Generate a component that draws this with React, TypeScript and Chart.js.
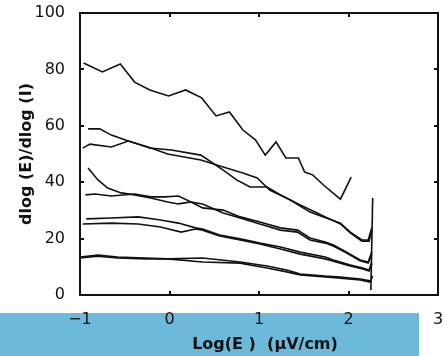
import React, { useEffect, useRef } from 'react';
import { Chart, registerables } from 'chart.js';

Chart.register(...registerables);

// ---- data ----
const xTickValues = [-1, 0, 1, 2, 3];
const yTickValues = [0, 20, 40, 60, 80, 100];
const xInnerTicks = [0, 1, 2];
const yInnerTicks = [20, 40, 60, 80];

const jagX = [-0.96, -0.75, -0.55, -0.39, -0.22, -0.01, 0.18, 0.36, 0.52, 0.67, 0.82, 0.96, 1.07, 1.19, 1.3, 1.44, 1.51, 1.6, 1.72, 1.91, 2.03];
const jagY = [82.3, 79.1, 81.9, 75.5, 72.7, 70.6, 72.7, 69.9, 63.5, 64.9, 58.5, 55.0, 49.6, 54.3, 48.6, 48.6, 43.6, 42.6, 39.0, 34.0, 41.8];

const aX = [-0.91, -0.78, -0.65, -0.46, -0.24, -0.02, 0.35, 0.6, 0.82, 0.98, 1.12, 1.35, 1.57, 1.72, 1.91, 2.02, 2.15, 2.22, 2.26];
const aY = [58.9, 58.9, 56.7, 54.6, 52.5, 50.0, 47.9, 45.4, 43.3, 41.5, 37.2, 33.7, 29.4, 27.7, 25.5, 22.3, 19.5, 19.5, 23.8];

const bX = [-0.97, -0.89, -0.65, -0.46, -0.22, 0.02, 0.35, 0.6, 0.75, 0.9, 1.09, 1.24, 1.46, 1.65, 1.74, 1.91, 2.02, 2.15, 2.23, 2.26];
const bY = [52.1, 53.5, 52.5, 54.6, 52.1, 51.4, 49.6, 44.3, 40.8, 38.3, 38.3, 35.5, 31.9, 29.1, 27.7, 25.2, 22.0, 19.1, 19.1, 23.0];

const cX = [-0.91, -0.8, -0.69, -0.54, -0.39, -0.21, -0.02, 0.1, 0.24, 0.37, 0.6, 0.79, 1.01, 1.24, 1.43, 1.57, 1.74, 1.83, 1.98, 2.13, 2.22, 2.26];
const cY = [45.0, 40.8, 37.9, 36.2, 35.5, 34.4, 33.0, 32.3, 33.0, 30.9, 30.1, 27.7, 25.9, 23.8, 23.0, 20.2, 18.8, 17.7, 15.2, 12.4, 11.7, 15.2];

const dX = [-0.94, -0.83, -0.65, -0.39, -0.21, -0.05, 0.1, 0.24, 0.37, 0.6, 0.79, 1.01, 1.24, 1.43, 1.57, 1.74, 1.83, 1.98, 2.13, 2.22, 2.26];
const dY = [35.5, 35.8, 35.1, 35.8, 34.8, 34.8, 35.1, 33.0, 32.3, 29.1, 27.3, 25.2, 23.0, 22.3, 19.5, 18.4, 17.4, 14.9, 12.1, 11.3, 14.5];

const eX = [-0.93, -0.65, -0.35, -0.1, 0.1, 0.29, 0.37, 0.56, 0.79, 1.01, 1.24, 1.46, 1.74, 1.83, 2.02, 2.16, 2.23, 2.26];
const eY = [27.0, 27.3, 27.7, 26.6, 25.5, 23.8, 23.4, 21.3, 19.9, 18.4, 17.0, 15.2, 13.5, 12.4, 10.6, 9.6, 8.9, 11.7];

const fX = [-0.97, -0.65, -0.35, -0.1, 0.13, 0.29, 0.37, 0.56, 0.79, 1.01, 1.24, 1.46, 1.74, 2.02, 2.16, 2.23, 2.26];
const fY = [25.2, 25.5, 25.2, 24.1, 22.3, 23.4, 23.0, 20.9, 19.5, 18.1, 16.3, 14.5, 12.8, 10.3, 9.2, 8.5, 11.0];

const gX = [-1.0, -0.8, -0.58, -0.27, -0.02, 0.37, 0.79, 1.09, 1.31, 1.46, 1.74, 1.91, 2.13, 2.24, 2.27];
const gY = [13.5, 14.2, 13.5, 13.1, 12.8, 11.7, 11.3, 9.6, 8.2, 7.1, 6.4, 6.0, 5.3, 4.6, 6.7];

const hX = [-1.0, -0.8, -0.58, -0.27, -0.02, 0.37, 0.79, 1.09, 1.31, 1.46, 1.74, 1.91, 2.13, 2.24];
const hY = [13.1, 13.8, 13.1, 12.8, 12.8, 13.1, 11.7, 10.3, 8.9, 7.4, 6.7, 6.4, 5.7, 5.0];

const spikeX = [2.25, 2.27];
const spikeY = [1.8, 34.4];

const xTitle = 'Log(E )  (μV/cm)';
const yTitle = 'dlog (E)/dlog (I)';

const allSeries: [number[], number[]][] = [
  [jagX, jagY], [aX, aY], [bX, bY], [cX, cY], [dX, dY],
  [eX, eY], [fX, fY], [gX, gY], [hX, hY], [spikeX, spikeY],
];

const INK = '#111111';

const decorPlugin = {
  id: 'decor',
  beforeDraw(chart: any) {
    const ctx = chart.ctx;
    ctx.save();
    ctx.fillStyle = '#6db9d9';
    ctx.fillRect(0, 313, 419, chart.height - 313);
    ctx.restore();
  },
  afterDatasetsDraw(chart: any) {
    const ctx = chart.ctx;
    const a = chart.chartArea;
    const xs = chart.scales.x;
    const ys = chart.scales.y;
    const left = Math.round(a.left);
    const right = Math.round(a.right);
    const top = Math.round(a.top);
    const bottom = Math.round(a.bottom);
    const w = 2;
    const L = 4;
    ctx.save();
    ctx.fillStyle = INK;
    ctx.fillRect(left - 1, top - 1, right - left + w, w);
    ctx.fillRect(left - 1, bottom - 1, right - left + w, w);
    ctx.fillRect(left - 1, top - 1, w, bottom - top + w);
    ctx.fillRect(right - 1, top - 1, w, bottom - top + w);
    xInnerTicks.forEach((v) => {
      const px = Math.round(xs.getPixelForValue(v));
      ctx.fillRect(px - 1, bottom - L, w, L);
      ctx.fillRect(px - 1, top, w, L);
    });
    yInnerTicks.forEach((v) => {
      const py = Math.round(ys.getPixelForValue(v));
      ctx.fillRect(left, py - 1, L, w);
      ctx.fillRect(right - L, py - 1, L, w);
    });
    ctx.restore();
  },
  afterDraw(chart: any) {
    const ctx = chart.ctx;
    const a = chart.chartArea;
    ctx.save();
    ctx.fillStyle = INK;
    ctx.font = 'bold 16px "DejaVu Sans"';
    ctx.textAlign = 'center';
    ctx.textBaseline = 'alphabetic';
    ctx.fillText(xTitle, 265, 349);
    ctx.translate(27, (a.top + a.bottom) / 2);
    ctx.rotate(-Math.PI / 2);
    ctx.textBaseline = 'middle';
    ctx.fillText(yTitle, 0, 0);
    ctx.restore();
  },
};

export default function App() {
  const ref = useRef<HTMLCanvasElement | null>(null);

  useEffect(() => {
    if (!ref.current) return;
    const datasets = allSeries.map(([xs, ys]) => ({
      data: xs.map((x, i) => ({ x, y: ys[i] })),
      borderColor: INK,
      borderWidth: 1.6,
      pointRadius: 0,
      tension: 0,
      fill: false,
    }));
    const tickFont = { family: '"DejaVu Sans"', size: 16 };
    const frameBorder = { display: true, color: INK, width: 2 };
    const chart = new Chart(ref.current, {
      type: 'line',
      data: { datasets },
      options: {
        animation: false,
        responsive: true,
        maintainAspectRatio: false,
        devicePixelRatio: 1,
        layout: { padding: { left: 0, right: 6, top: 13, bottom: 0 } },
        plugins: { legend: { display: false }, tooltip: { enabled: false } },
        scales: {
          x: {
            type: 'linear',
            min: -1,
            max: 3,
            afterBuildTicks: (s: any) => { s.ticks = xTickValues.map((v) => ({ value: v })); },
            afterFit: (s: any) => { s.height = 61; s.paddingLeft = 0; s.paddingRight = 0; },
            grid: { display: false, drawTicks: false },
            border: frameBorder,
            ticks: {
              font: tickFont,
              color: INK,
              padding: 15,
              maxRotation: 0,
              callback: (v: any) => String(v).replace('-', '−'),
            },
          },
          y: {
            type: 'linear',
            min: 0,
            max: 100,
            afterBuildTicks: (s: any) => { s.ticks = yTickValues.map((v) => ({ value: v })); },
            afterFit: (s: any) => { s.width = 80; s.paddingTop = 0; s.paddingBottom = 0; },
            grid: { display: false, drawTicks: false },
            border: frameBorder,
            ticks: { font: tickFont, color: INK, padding: 15 },
          },
        },
      },
      plugins: [decorPlugin],
    });
    return () => chart.destroy();
  }, []);

  return (
    <div style={{ position: 'fixed', left: 0, top: 0, width: 444, height: 356, background: '#ffffff' }}>
      <canvas ref={ref} />
    </div>
  );
}
